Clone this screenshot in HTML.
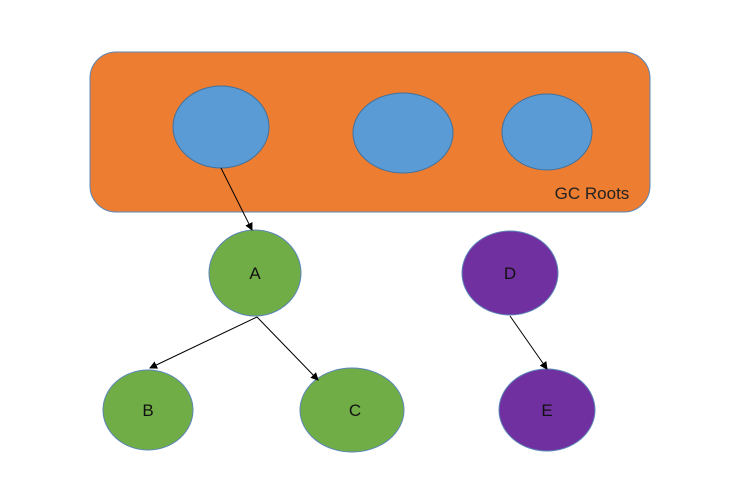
<!DOCTYPE html>
<html><head><style>body{margin:0;background:#fff}svg{display:block}</style></head><body>
<svg width="743" height="487" viewBox="0 0 743 487" xmlns="http://www.w3.org/2000/svg" font-family="Liberation Sans, sans-serif">
<defs><marker id="ar" markerWidth="8" markerHeight="8" refX="7" refY="4" orient="auto" markerUnits="userSpaceOnUse"><path d="M0,0 L8,4 L0,8 Z" fill="#000"/></marker></defs>
<rect x="90" y="52" width="560" height="160" rx="26" fill="#ed7d31" stroke="#5b86b8" stroke-width="1"/>
<g fill="#5b9bd5" stroke="#41719c" stroke-width="1">
<ellipse cx="221" cy="127" rx="48" ry="41"/>
<ellipse cx="403" cy="133" rx="50" ry="40"/>
<ellipse cx="547" cy="132" rx="45" ry="38"/>
</g>
<text x="592" y="199" font-size="17" text-anchor="middle" fill="#222">GC Roots</text>
<g fill="#70ad47" stroke="#5b86b8" stroke-width="1">
<ellipse cx="255" cy="273" rx="46" ry="43"/>
<ellipse cx="148" cy="410" rx="45" ry="40"/>
<ellipse cx="352" cy="410" rx="52" ry="42"/>
</g>
<g fill="#7030a0" stroke="#5b86b8" stroke-width="1">
<ellipse cx="510" cy="273" rx="48" ry="42"/>
<ellipse cx="547" cy="410" rx="48" ry="41"/>
</g>
<g stroke="#000" stroke-width="1" marker-end="url(#ar)">
<line x1="221" y1="168" x2="252" y2="230"/>
<line x1="257" y1="317" x2="150" y2="368"/>
<line x1="257" y1="317" x2="318" y2="380"/>
<line x1="510" y1="316" x2="547" y2="369"/>
</g>
<g font-size="17" text-anchor="middle" fill="#111">
<text x="255" y="279">A</text>
<text x="148" y="416">B</text>
<text x="355" y="416">C</text>
<text x="510" y="279">D</text>
<text x="547" y="416">E</text>
</g>
</svg>
</body></html>
